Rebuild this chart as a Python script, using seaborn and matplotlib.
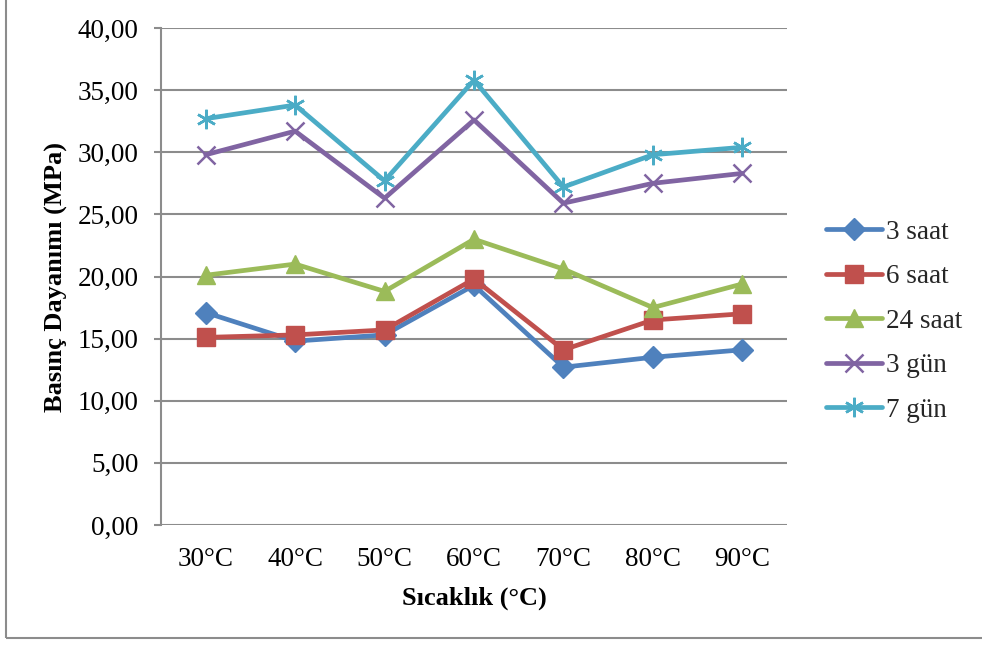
import matplotlib
matplotlib.use("Agg")
import matplotlib.pyplot as plt
import seaborn as sns
import pandas as pd
from matplotlib.patches import Rectangle
from matplotlib.ticker import FuncFormatter

categories = ["30°C", "40°C", "50°C", "60°C", "70°C", "80°C", "90°C"]
saat3 = [17.1, 14.8, 15.3, 19.3, 12.7, 13.5, 14.1]
saat6 = [15.1, 15.3, 15.7, 19.8, 14.1, 16.5, 17.0]
saat24 = [20.1, 21.0, 18.8, 23.0, 20.6, 17.5, 19.4]
gun3 = [29.8, 31.7, 26.3, 32.6, 25.9, 27.5, 28.3]
gun7 = [32.7, 33.8, 27.7, 35.8, 27.2, 29.8, 30.4]
series_names = ["3 saat", "6 saat", "24 saat", "3 gün", "7 gün"]
series_values = [saat3, saat6, saat24, gun3, gun7]
y_ticks = [0, 5, 10, 15, 20, 25, 30, 35, 40]

colors = ["#4F81BD", "#C0504D", "#9BBB59", "#8064A2", "#4BACC6"]
markers = ["D", "s", "^", "x", (6, 2, 0)]
msizes = [11, 12.5, 12.5, 13, 14]

rows = []
for name, vals in zip(series_names, series_values):
    for c, v in zip(categories, vals):
        rows.append({"Sıcaklık": c, "Değer": v, "Seri": name})
df = pd.DataFrame(rows)

sns.set_theme(style="white")
plt.rcParams["font.family"] = ["Liberation Serif", "DejaVu Serif"]

fig = plt.figure(figsize=(9.82, 6.46), dpi=100)
ax = fig.add_axes([161 / 982, 1 - 525 / 646, 626 / 982, 497 / 646])

for name, col, mk, ms in zip(series_names, colors, markers, msizes):
    sub = df[df["Seri"] == name]
    thin = mk == "x" or isinstance(mk, tuple)
    sns.lineplot(data=sub, x="Sıcaklık", y="Değer", ax=ax, color=col, lw=3.4,
                 marker=mk, markersize=ms, markeredgecolor=col,
                 markeredgewidth=1.8 if thin else 1.0,
                 label=name, sort=False)

ax.set_xlim(-0.5, 6.5)
ax.set_ylim(0, 40)
ax.set_yticks(y_ticks)
ax.yaxis.set_major_formatter(FuncFormatter(lambda v, p: f"{v:.2f}".replace(".", ",")))
ax.grid(axis="y", color="#8C8C8C", lw=1.5)
ax.set_axisbelow(True)
for s in ["top", "right", "bottom"]:
    ax.spines[s].set_visible(False)
ax.spines["left"].set_color("#8C8C8C")
ax.spines["left"].set_linewidth(1.5)
ax.tick_params(axis="y", which="major", left=True, length=5, width=1.5, color="#8C8C8C",
               labelsize=19.5, pad=11, labelcolor="black")
ax.tick_params(axis="x", bottom=False, labelsize=19.5, pad=10, labelcolor="black")

ax.set_xlabel("Sıcaklık (°C)", fontsize=19, fontweight="bold", labelpad=10, color="black")
ax.set_ylabel("Basınç Dayanımı (MPa)", fontsize=19, fontweight="bold", labelpad=7, color="black")

leg = ax.legend(loc="center left", bbox_to_anchor=(0.841, 0.503), bbox_transform=fig.transFigure,
                frameon=False, fontsize=19.5, handlelength=2.07, handletextpad=0.15,
                labelspacing=0.72, borderaxespad=0, borderpad=0)

fig.patches.append(Rectangle((6 / 982, 8 / 646), 1.0, 1.0, transform=fig.transFigure,
                             fill=False, edgecolor="#8C8C8C", lw=1.5))

fig.savefig("out.png", dpi=100)
